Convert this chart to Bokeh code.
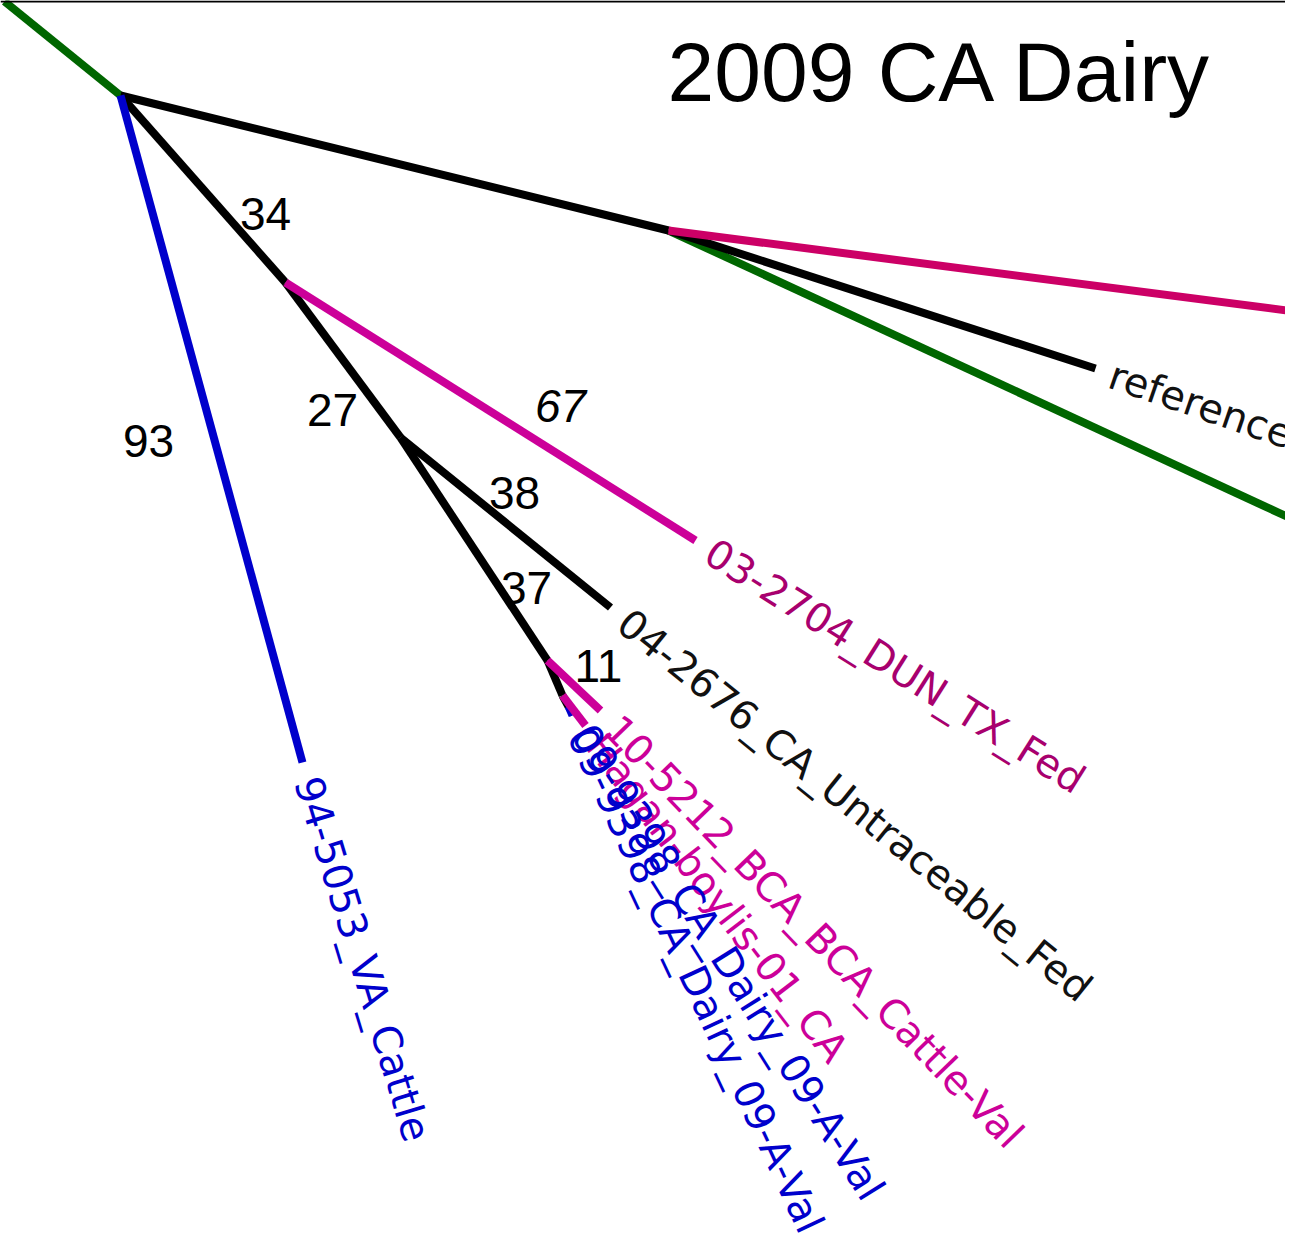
import math
from bokeh.plotting import figure
from bokeh.models import Range1d, ColumnDataSource, Span
from bokeh.core.properties import value
from bokeh.embed import file_html
from bokeh.resources import INLINE

title_text = "2009 CA Dairy"

# tree nodes (layout coordinates of the drawing, in pixels of the original picture)
node_name   = ["stem", "R", "A", "ref", "ref_m", "ref_g", "94", "B", "03", "C", "04", "D", "10", "E", "Hg", "F", "09a", "09b"]
node_parent = [None,   "stem", "R", "A", "A", "A", "R", "R", "B", "B", "C", "C", "D", "D", "E", "E", "F", "F"]
node_x      = [4,    120, 668, 1095, 1310, 1310, 302, 285, 695, 400, 610, 547, 600, 562, 585, 568, 573, 572]
node_y      = [1,     95, 230,  368,  313,  527, 762, 282, 540, 437, 607, 660, 710, 695, 725, 706, 714, 715]
node_color  = ["#006600", "#006600", "#000000", "#000000", "#cc0066", "#006600", "#0000cc", "#000000",
               "#cc0099", "#000000", "#000000", "#000000", "#cc0099", "#000000", "#cc0099", "#000000",
               "#0000cc", "#0000cc"]
node_label  = ["", "", "", "reference", "", "", "94-5053_VA_Cattle", "", "03-2704_DUN_TX_Fed", "",
               "04-2676_CA_Untraceable_Fed", "", "10-5212_BCA_BCA_Cattle-Val", "", "Hagan-boylis-01_CA", "",
               "09-9398_CA_Dairy_09-A-Val", "09-9398_CA_Dairy_09-A-Val"]
label_color = ["", "", "", "#111111", "", "", "#0000cc", "", "#a8006e", "",
               "#111111", "", "#cc0099", "", "#cc0099", "", "#0000cc", "#0000cc"]
label_angle = [None, None, None, 19, None, None, 73, None, None, None,
               None, None, 46, None, None, None, 58, 65]

# bootstrap support values
support_text = ["34", "93", "27", "67", "38", "37", "11"]
support_x    = [265, 148, 332, 560, 514, 526, 598]
support_y    = [213, 440, 409, 405, 492, 587, 665]
support_style = ["normal", "normal", "normal", "italic", "normal", "normal", "normal"]

W, H = 1285, 1244
p = figure(width=W, height=H, x_range=Range1d(0, W), y_range=Range1d(H, 0),
           output_backend="svg", toolbar_location=None, min_border=0)
p.axis.visible = False
p.grid.visible = False
p.outline_line_color = None
p.background_fill_color = "white"
p.border_fill_color = "white"

idx = {n: i for i, n in enumerate(node_name)}
x0, y0, x1, y1, cols = [], [], [], [], []
lx, ly, lt, la, lc = [], [], [], [], []
GAP = 16
for i, n in enumerate(node_name):
    par = node_parent[i]
    if par is None:
        continue
    j = idx[par]
    x0.append(node_x[j]); y0.append(node_y[j])
    x1.append(node_x[i]); y1.append(node_y[i])
    cols.append(node_color[i])
    if node_label[i]:
        dx = node_x[i] - node_x[j]
        dy = node_y[i] - node_y[j]
        if label_angle[i] is not None:
            th = math.radians(label_angle[i])
        else:
            th = math.atan2(dy, dx)
        ux, uy = math.cos(th), math.sin(th)
        lx.append(node_x[i] + GAP * ux)
        ly.append(node_y[i] + GAP * uy)
        lt.append(node_label[i])
        la.append(-th)
        lc.append(label_color[i])

order = {"#006600": 0, "#000000": 1, "#0000cc": 2, "#cc0099": 3, "#cc0066": 3}
seg = sorted(zip(x0, y0, x1, y1, cols), key=lambda t: order[t[4]])
src = ColumnDataSource(dict(x0=[s[0] for s in seg], y0=[s[1] for s in seg],
                            x1=[s[2] for s in seg], y1=[s[3] for s in seg],
                            c=[s[4] for s in seg]))
p.segment("x0", "y0", "x1", "y1", source=src, line_color="c", line_width=8, line_cap="butt")

lsrc = ColumnDataSource(dict(x=lx, y=ly, t=lt, a=la, c=lc))
p.text("x", "y", text="t", angle="a", source=lsrc, text_color="c",
       text_font=value("DejaVu Sans"), text_font_size="40px",
       text_align="left", text_baseline="middle")

ssrc = ColumnDataSource(dict(x=support_x, y=support_y, t=support_text, s=support_style))
p.text("x", "y", text="t", source=ssrc, text_font=value("Liberation Sans"),
       text_font_size="46px", text_font_style="s", text_color="black",
       text_align="center", text_baseline="middle")

p.text(x=[667], y=[71], text=[title_text], text_font=value("Liberation Sans"),
       text_font_size="84px", text_color="black", text_align="left",
       text_baseline="middle")

p.add_layout(Span(location=1, dimension="width", line_color="black", line_width=2))

open("out.html", "w").write(file_html(p, INLINE))
